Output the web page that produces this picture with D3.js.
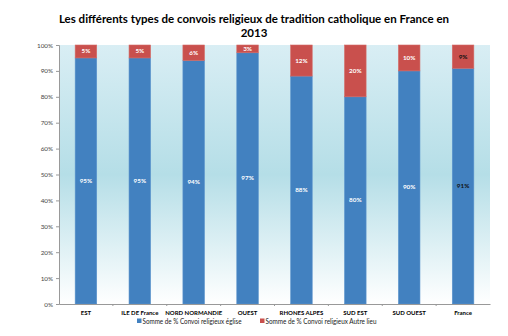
<!DOCTYPE html>
<html>
<head>
<meta charset="utf-8">
<script src="https://cdn.jsdelivr.net/npm/d3@7"></script>
<style>
body { margin: 0; background: #fff; }
svg { display: block; font-family: Lato, "Open Sans", sans-serif; }
</style>
</head>
<body>
<svg width="508" height="336"></svg>
<script>
// chart values
var regions = ['EST', 'ILE DE France', 'NORD NORMANDIE', 'OUEST', 'RHONES ALPES', 'SUD EST', 'SUD OUEST', 'France'];
var eglise = [95, 95, 94, 97, 88, 80, 90, 91];
var autre = [5, 5, 6, 3, 12, 20, 10, 9];
var yTicks = [0, 10, 20, 30, 40, 50, 60, 70, 80, 90, 100];
var seriesNames = ['Somme de % Convoi religieux église', 'Somme de % Convoi religieux Autre lieu'];
var colors = ['#4281c0', '#c9504d'];

var svg = d3.select('svg');
var plot = {l: 59, r: 490, t: 45, b: 304};

var x = d3.scaleBand().domain(regions).range([plot.l, plot.r]).paddingInner(0.6).paddingOuter(0.3);
var xCat = d3.scaleBand().domain(regions).range([plot.l, plot.r]);
var y = d3.scaleLinear().domain([0, 100]).range([plot.b, plot.t]);

// background gradient
var grad = svg.append('defs').append('linearGradient')
    .attr('id', 'bg').attr('x1', 0).attr('y1', 0).attr('x2', 0).attr('y2', 1);
grad.append('stop').attr('offset', '0%').attr('stop-color', '#d9eef4');
grad.append('stop').attr('offset', '50%').attr('stop-color', '#b5dee7');
grad.append('stop').attr('offset', '100%').attr('stop-color', '#ffffff');

svg.append('rect')
    .attr('x', plot.l).attr('y', plot.t)
    .attr('width', plot.r - plot.l).attr('height', plot.b - plot.t)
    .attr('fill', 'url(#bg)');

// title
var title = svg.append('text')
    .attr('text-anchor', 'middle')
    .attr('font-weight', 'bold')
    .attr('font-size', 11.5)
    .attr('fill', '#000');
title.append('tspan').attr('x', 254).attr('y', 23)
    .text('Les différents types de convois religieux de tradition catholique en France en');
title.append('tspan').attr('x', 254).attr('y', 37).text('2013');

// stacked data
var rows = regions.map(function(r, i) {
    return {region: r, eglise: eglise[i], autre: autre[i]};
});
var stack = d3.stack().keys(['eglise', 'autre'])(rows);

var layers = svg.selectAll('.layer')
    .data(stack)
    .enter().append('g')
    .attr('class', 'layer')
    .attr('fill', function(d, i) { return colors[i]; });

layers.selectAll('rect')
    .data(function(d) { return d; })
    .enter().append('rect')
    .attr('x', function(d) { return x(d.data.region); })
    .attr('y', function(d) { return y(d[1]); })
    .attr('width', x.bandwidth())
    .attr('height', function(d) { return y(d[0]) - y(d[1]); })
    .attr('stroke', function(d) { return d3.select(this.parentNode).datum().key === 'eglise' ? '#5a93cc' : '#d46a66'; })
    .attr('stroke-width', 0.6);

layers.selectAll('text')
    .data(function(d) { return d; })
    .enter().append('text')
    .attr('x', function(d) { return x(d.data.region) + x.bandwidth() / 2; })
    .attr('y', function(d) { return (y(d[0]) + y(d[1])) / 2 + 2; })
    .attr('text-anchor', 'middle')
    .attr('font-size', 6.3)
    .attr('font-weight', 'bold')
    .attr('fill', function(d) { return d.data.region === 'France' ? '#111' : '#fff'; })
    .text(function(d) { return (d[1] - d[0]) + '%'; });

// y axis
var yAxis = svg.append('g')
    .attr('transform', 'translate(' + plot.l + ',0)')
    .call(d3.axisLeft(y).tickValues(yTicks).tickSize(3).tickFormat(function(d) { return d + '%'; }));
yAxis.select('.domain').attr('stroke', '#999');
yAxis.selectAll('.tick line').attr('stroke', '#999');
yAxis.selectAll('.tick text').attr('font-size', 6.3).attr('fill', '#444').attr('font-family', 'Lato, sans-serif');

// x axis
var xAxis = svg.append('g')
    .attr('transform', 'translate(0,' + plot.b + ')')
    .call(d3.axisBottom(xCat).tickSize(0).tickPadding(7));
xAxis.select('.domain').attr('stroke', '#999');
xAxis.selectAll('.tick text').attr('font-size', 6).attr('font-weight', 'bold').attr('fill', '#000').attr('font-family', 'Lato, sans-serif');
xAxis.selectAll('.sep')
    .data(regions.slice(1))
    .enter().append('line')
    .attr('class', 'sep')
    .attr('x1', function(d) { return xCat(d); })
    .attr('x2', function(d) { return xCat(d); })
    .attr('y1', 0).attr('y2', 2)
    .attr('stroke', '#999');

// legend
var legendX = [137, 260];
var legendW = [99, 111];
var legend = svg.selectAll('.legend')
    .data(seriesNames)
    .enter().append('g')
    .attr('class', 'legend')
    .attr('transform', function(d, i) { return 'translate(' + legendX[i] + ',322)'; });
legend.append('rect')
    .attr('x', 0).attr('y', -3.5).attr('width', 4.5).attr('height', 4.5)
    .attr('fill', function(d, i) { return colors[i]; });
legend.append('text')
    .attr('x', 5.5).attr('y', 2)
    .attr('font-size', 7)
    .attr('fill', '#222')
    .attr('textLength', function(d, i) { return legendW[i]; })
    .attr('lengthAdjust', 'spacingAndGlyphs')
    .text(function(d) { return d; });
</script>
</body>
</html>
